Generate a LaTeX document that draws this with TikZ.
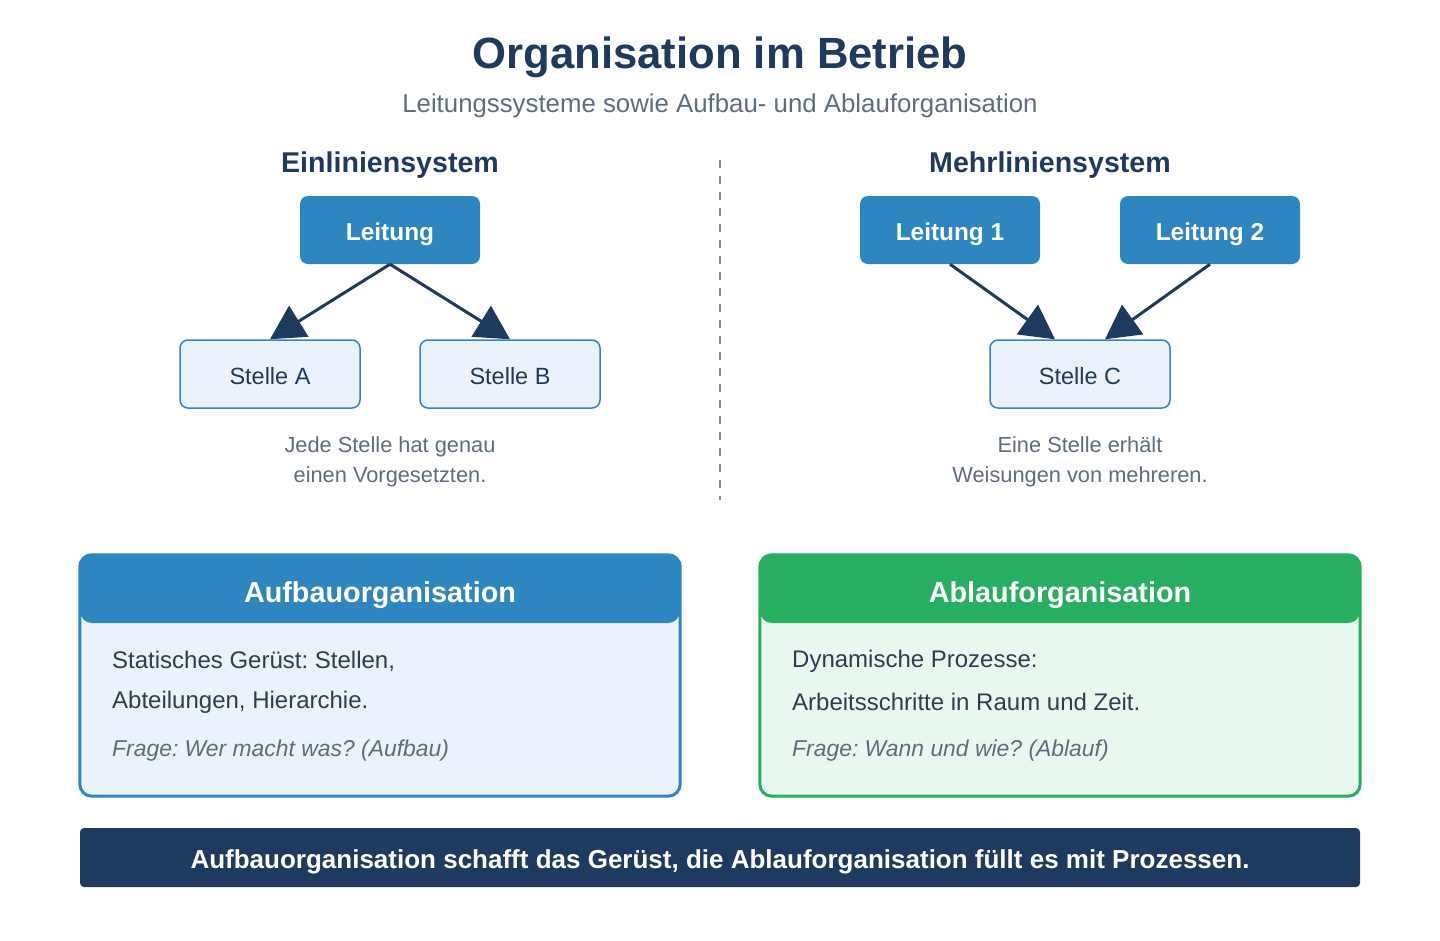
\documentclass[tikz,border=0pt]{standalone}
\usepackage{fontspec}
\setmainfont{Liberation Sans}
\usetikzlibrary{arrows.meta}

\definecolor{navy}{HTML}{1F3A5F}
\definecolor{blau}{HTML}{2E86C1}
\definecolor{hellblau}{HTML}{EAF2FB}
\definecolor{gruen}{HTML}{27AE60}
\definecolor{hellgruen}{HTML}{E9F7EF}
\definecolor{grautext}{HTML}{5D6D7E}
\definecolor{dunkeltext}{HTML}{2C3E50}
\definecolor{strich}{HTML}{7F8C8D}

\newcommand{\fs}[2][1.2]{\fontsize{#2}{#1\dimexpr #2pt\relax}\selectfont}
\frenchspacing

\begin{document}
\frenchspacing
\begin{tikzpicture}
          [x=1pt,y=-1pt,
           leitung/.style={fill=blau, rounded corners=8pt, minimum width=180pt, minimum height=68pt, inner sep=0pt, text height=21.8pt, text depth=0pt, text=white, font=\fs{24.4}\bfseries},
           stelle/.style={draw=blau, line width=1.5pt, fill=hellblau, rounded corners=8pt, minimum width=180pt, minimum height=68pt, inner sep=0pt, text height=21pt, text depth=0pt, text=navy, font=\fs{23.5}},
           pfeil/.style={draw=navy, line width=3pt, -{Triangle[length=34pt,width=36pt]}},
           notiz/.style={text=grautext, font=\fontsize{21.8}{30}\selectfont, align=center},
           rubrik/.style={text=navy, font=\fs{28.6}\bfseries},
           kopf/.style={rounded corners=12pt, minimum width=600pt, minimum height=68pt, inner sep=0pt},
           tafel/.style={rounded corners=12pt, minimum width=600pt, minimum height=241pt, inner sep=0pt},
           kopftext/.style={text=white, font=\fs{28.8}\bfseries},
           koerper/.style={anchor=west, text=dunkeltext, font=\fs{24}, inner sep=0pt},
           frage/.style={anchor=west, text=grautext, font=\fs{22.9}\itshape, inner sep=0pt}]
        \useasboundingbox (0,0) rectangle (1440,940);

        % Titel
        \node[text=navy, font=\fs{43.7}\bfseries] (titel) at (720,57) {Organisation im Betrieb};
        \node[text=grautext, font=\fs{25.8}] (untertitel) at (720,106) {Leitungssysteme sowie Aufbau- und Ablauforganisation};

        % Trennlinie
        \coordinate (trennoben) at (720,160);
        \coordinate (trennunten) at (720,500);
        \draw[strich, line width=2pt, dash pattern=on 8pt off 8pt] (trennoben) -- (trennunten);

        % Einliniensystem
        \node[rubrik] (ein) at (390,165) {Einliniensystem};
        \node[leitung] (l) at (390,230) {Leitung};
        \node[stelle] (sa) at (270,374) {Stelle A};
        \node[stelle] (sb) at (510,374) {Stelle B};
        \node[notiz] (n1) at (390,462) {Jede Stelle hat genau\\einen Vorgesetzten.};

        % Mehrliniensystem
        \node[rubrik] (mehr) at (1050,165) {Mehrliniensystem};
        \node[leitung] (l1) at (950,230) {Leitung 1};
        \node[leitung] (l2) at (1210,230) {Leitung 2};
        \node[stelle] (sc) at (1080,374) {Stelle C};
        \node[notiz] (n2) at (1080,462) {Eine Stelle erhält\\Weisungen von mehreren.};

        \foreach \from/\to in {l/sa, l/sb}
          \draw[pfeil] (\from.south) -- (\to.north);
        \draw[pfeil] (l1.south) -- ([xshift=-25pt]sc.north);
        \draw[pfeil] (l2.south) -- ([xshift=25pt]sc.north);

        % Aufbauorganisation
        \node[tafel, fill=hellblau] (aufbau) at (380,675.5) {};
        \node[kopf, fill=blau] (aufbaukopf) at (380,589) {};
        \draw[blau, line width=3pt, rounded corners=12pt] (aufbau.north west) rectangle (aufbau.south east);
        \node[kopftext] (aufbautitel) at (380,595) {Aufbauorganisation};
        \node[koerper] (a1) at (112,661.5) {Statisches Gerüst: Stellen,};
        \node[koerper] (a2) at (112,702) {Abteilungen, Hierarchie.};
        \node[frage] (a3) at (112,751) {Frage: Wer macht was? (Aufbau)};

        % Ablauforganisation
        \node[tafel, fill=hellgruen] (ablauf) at (1060,675.5) {};
        \node[kopf, fill=gruen] (ablaufkopf) at (1060,589) {};
        \draw[gruen, line width=3pt, rounded corners=12pt] (ablauf.north west) rectangle (ablauf.south east);
        \node[kopftext] (ablauftitel) at (1060,595) {Ablauforganisation};
        \node[koerper] (b1) at (792,661.5) {Dynamische Prozesse:};
        \node[koerper] (b2) at (792,702) {Arbeitsschritte in Raum und Zeit.};
        \node[frage] (b3) at (792,751) {Frage: Wann und wie? (Ablauf)};

        % Fazit
        \node[fill=navy, rounded corners=4pt, minimum width=1280pt, minimum height=59pt, inner sep=0pt] (fazit) at (720,857.5) {};
        \node[text=white, font=\fs{26}\bfseries] (fazittext) at (720,861.5) {Aufbauorganisation schafft das Gerüst, die Ablauforganisation füllt es mit Prozessen.};
      \end{tikzpicture}
\end{document}
